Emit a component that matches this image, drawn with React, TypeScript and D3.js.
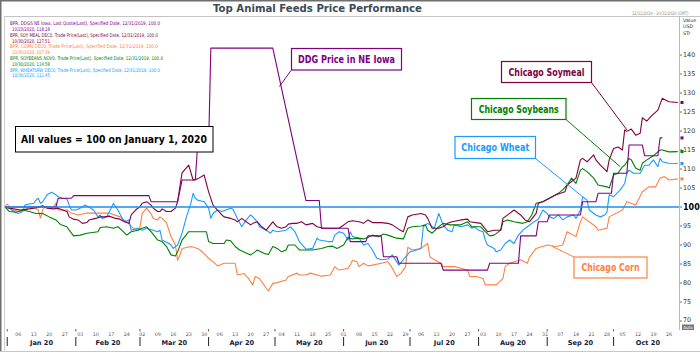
import React from "react";
import * as d3 from "d3";

// ---- DATA (day = days since 12/31/2019, value = index, 100 on 1 Jan 2020) ----
const corn: [number, number][] = [[0,100],[1,100.8],[3,99.2],[7,98.8],[9,99.2],[11,100],[13,100],[15,99.2],[16,97.1],[17,99.2],[18,100],[22,100],[23,101],[24,99.2],[28,99.2],[30,98.4],[33,97.9],[37,98.4],[43,98.4],[47,98.4],[52,97.4],[55,96.1],[58,94.4],[60,93.9],[61,94.7],[62,98.3],[64,99.7],[66,98.2],[67,97],[69,96.6],[70,97.4],[71,97],[73,95.8],[75,92.2],[77,90],[78,86],[79,87.3],[80,89.1],[84,89.6],[87,89.1],[89,88.3],[92,86.5],[94,85.6],[96,84.5],[99,85.2],[102,85.2],[104,85.2],[105,82.1],[108,82.5],[110,81.2],[112,79.5],[113,81.7],[115,81.2],[117,79.5],[119,77.9],[121,79.9],[123,80.1],[127,80.8],[128,81.7],[132,82.6],[133,82.1],[136,82.1],[138,82.6],[143,81.8],[147,82.1],[149,84.3],[151,83.4],[155,83.9],[156,84.7],[157,86],[159,85.6],[160,84.3],[162,85.2],[164,84.5],[166,84.7],[170,85.2],[173,85.6],[175,83.9],[177,81.7],[179,82.6],[181,84.3],[182,89.4],[184,88.7],[188,89.1],[191,90.4],[192,86.9],[194,86.1],[197,85.2],[198,84.3],[201,84.3],[203,84.3],[206,83.9],[209,83.4],[210,81.7],[213,81.7],[216,81.2],[217,79.5],[219,79.5],[222,79.5],[225,81.2],[226,84.3],[228,85.2],[233,86.1],[236,85.2],[237,86.8],[240,89.1],[245,90],[249,89.6],[252,90],[254,93.5],[258,92.2],[260,96.1],[261,97.4],[267,94.8],[268,93.9],[272,94.4],[273,97.4],[279,99.2],[281,101.4],[285,100.5],[288,104],[291,105.3],[294,105.3],[296,107.6],[298,108],[300,107.1],[304,107.39]];

const wheat: [number, number][] = [[0,100],[2,99.7],[4,98.8],[6,98.3],[8,98.8],[9,100.5],[11,100.8],[13,101],[14,101.8],[15,102.3],[16,101],[17,101.4],[19,103.2],[21,103.9],[23,103.2],[24,102.7],[26,102.3],[28,102.1],[29,100.5],[30,99.2],[32,99.2],[34,99.7],[36,100.5],[38,100],[40,99.2],[42,97.4],[43,97.9],[44,97],[46,97.4],[49,101],[51,99.2],[53,97],[54,96.1],[56,96.6],[57,93.9],[60,94.4],[62,93.9],[64,94.4],[69,93.5],[70,93.9],[71,91.3],[74,90.4],[75,90],[76,89.1],[78,90],[80,93.1],[82,97.4],[84,101],[85,103.6],[86,102.3],[87,101.8],[90,101.4],[92,99.7],[93,97],[94,98.3],[96,99.2],[98,98.8],[102,99.7],[103,99.4],[105,97],[107,94.8],[109,96.6],[111,97.9],[112,97.4],[114,96.1],[115,94.8],[118,93.9],[119,93.5],[120,93.1],[121,93.9],[123,93.5],[127,93.9],[129,94.8],[131,93.5],[133,90.9],[136,88.9],[139,89.1],[141,91.8],[142,91.3],[146,90.9],[148,90.9],[149,92.6],[151,93.5],[153,93.1],[155,91.3],[156,93.5],[157,92.2],[160,91.8],[162,90],[164,90.4],[166,88.7],[168,86.5],[170,86.1],[173,86.3],[175,87.4],[178,84.7],[181,86.9],[183,88.2],[186,88.7],[188,89.1],[189,94.8],[191,95.7],[192,95.3],[194,94.4],[196,98.3],[198,95.3],[200,93.9],[202,93.5],[203,95.3],[206,94.8],[209,95.3],[211,94.4],[212,94.8],[214,93.9],[216,93.5],[217,91.3],[218,90],[221,89.1],[222,88.2],[224,88.7],[226,90.4],[228,91.3],[230,90.4],[232,92.6],[234,93.9],[236,94.8],[239,96.1],[241,96.8],[243,99.2],[245,98.3],[246,97.4],[248,97],[250,97.9],[252,96.6],[254,97.4],[257,97.9],[258,97],[260,99.2],[261,102.7],[263,101.8],[264,99.2],[267,97.9],[269,97.4],[271,97.9],[272,98.7],[273,103.2],[275,102.7],[278,104.5],[280,106.2],[281,108.9],[282,109.7],[284,108.9],[287,108.9],[289,111],[291,111],[293,112.4],[295,110.6],[296,112.8],[297,111.9],[300,111.5],[304,111.45]];

const soybeans: [number, number][] = [[0,100],[2,98.8],[5,98.6],[8,99.2],[11,98.8],[14,98.3],[17,98.3],[20,97.4],[23,96.6],[25,95.4],[28,94.8],[29,93.9],[31,92.4],[34,92.6],[37,93.1],[42,93.5],[43,94.6],[46,94.8],[49,94.4],[51,94.8],[53,93.8],[55,92.6],[57,93.5],[60,93.9],[62,94.4],[64,94.8],[66,93.5],[69,91.3],[71,90.9],[73,89.6],[75,87.4],[77,87.1],[78,88.2],[80,91.3],[83,93.5],[85,93.5],[91,93.5],[92,90.9],[94,90.4],[99,90.4],[100,91.3],[102,91.1],[104,89.6],[106,88.7],[111,87.4],[113,88.2],[114,88.7],[117,87.8],[119,87.5],[121,89.6],[123,89.1],[125,88.2],[127,88.7],[128,90],[131,90],[133,88.7],[139,88.7],[143,89.1],[146,89.6],[148,89.7],[150,89.1],[153,90],[155,92],[157,91.6],[159,91.8],[162,91.6],[164,92],[166,92.6],[169,92.2],[171,92.9],[173,92.6],[177,91.8],[180,91.6],[182,94.4],[184,94.8],[188,95],[190,95.3],[191,93.9],[193,93.1],[196,94.8],[198,95.7],[201,95.3],[206,95.3],[209,96.1],[211,94.8],[215,94.8],[217,93.5],[219,92.4],[221,92.6],[224,93.9],[225,96.1],[227,96.6],[230,96.1],[234,95.7],[236,96.1],[238,97.9],[240,101],[243,101.4],[246,102.3],[250,103.6],[252,104.5],[254,105.8],[256,107.6],[258,106.2],[260,109.7],[261,110.1],[263,109.3],[266,107.6],[268,105.8],[272,105.3],[273,105],[275,108.4],[277,108.9],[279,110.6],[280,111],[282,112.8],[283,112.4],[285,110.2],[287,109.7],[288,111.5],[290,112.4],[293,113.5],[295,114.5],[296,115],[297,115],[300,114.5],[304,114.58]];

const soymeal: [number, number][] = [[0,100],[2,99.7],[7,99.2],[11,99.5],[13,99.7],[16,100.1],[17,100.3],[19,99.7],[22,99.5],[24,99.7],[26,99.2],[28,98.8],[29,97.4],[31,96.8],[33,96.6],[35,95.7],[37,95.9],[38,96.6],[41,97],[43,97.4],[45,97.4],[47,97.6],[50,97],[52,96.8],[54,96.1],[56,95.7],[57,97.9],[59,99.2],[61,100.1],[62,101],[64,101.4],[66,100.5],[67,99.7],[69,98.8],[70,98.8],[71,99.5],[73,98.8],[75,98.8],[77,99.7],[78,101.4],[80,109],[83,111],[85,107.1],[87,107.4],[90,108.4],[92,104],[94,100.5],[96,99.2],[98,97.9],[99,97.4],[102,97],[104,96.6],[105,96.1],[107,97],[109,96.1],[111,95.3],[112,95.7],[114,96.1],[116,94.8],[118,93.9],[121,96.1],[123,94.8],[125,94.4],[127,94.8],[128,95.5],[130,95.7],[132,95.7],[134,96.1],[136,95.3],[139,95.7],[141,94.8],[144,94.4],[148,94.4],[151,94.4],[155,96.1],[157,96.4],[160,96.1],[162,95.7],[164,96.6],[166,95.9],[170,95.9],[173,95.7],[175,95.3],[178,94.1],[180,93.5],[182,97.4],[184,97.9],[188,98.3],[190,97.9],[191,97],[193,94.4],[196,94.4],[198,94.8],[200,95.7],[202,96.1],[206,96.6],[209,96.8],[210,96.1],[215,95.7],[218,93.5],[221,93.9],[224,93.9],[225,97],[230,99.2],[233,97.9],[235,96.6],[237,96.1],[240,98.3],[241,101],[243,101.4],[246,102.3],[249,103.2],[251,103.6],[253,104],[254,105.8],[256,106.7],[258,107.6],[260,112.4],[261,112.8],[263,111.9],[266,113.7],[267,112.4],[269,111],[272,109.3],[273,112.4],[275,115.4],[277,115.8],[279,115],[280,120.3],[281,119.9],[283,120.5],[285,118.9],[287,119.4],[288,123.5],[290,122.6],[292,123.9],[295,125.5],[297,128.6],[298,128.3],[300,127.7],[304,127.51]];

const ddg: [number, number][] = [[0,100],[23,100],[24,102.3],[30,102.3],[31,103],[65,103],[66,101.4],[78,101.4],[80,107.1],[86,107.1],[87,116],[92,116],[93,141.8],[121,141.8],[136,101.7],[142,101.7],[143,94.4],[155,94.4],[156,90.9],[163,90.9],[164,92.4],[170,92.4],[171,86.9],[177,86.9],[178,85.2],[197,85.2],[198,83.4],[218,83.4],[219,85.2],[232,85.2],[233,92.4],[240,92.4],[241,96.1],[245,96.1],[246,97.9],[260,97.9],[261,101.4],[267,101.4],[268,103.6],[274,103.6],[275,108.9],[281,108.9],[282,116.3],[288,116.3],[289,113.5],[295,113.5],[296,118.18],[297,118.18]];

const legendMain = [
  "BPR, DDGS NE Iowa, Last Quote(Last), Specified Date, 12/31/2019, 100.0",
  "BPR, SOY MEAL DEC0, Trade Price(Last), Specified Date, 12/31/2019, 100.0",
  "BPR, CORN DEC0, Trade Price(Last), Specified Date, 12/31/2019, 100.0",
  "BPR, SOYBEANS NOV0, Trade Price(Last), Specified Date, 12/31/2019, 100.0",
  "BPR, WHEATSRW DEC0, Trade Price(Last), Specified Date, 12/31/2019, 100.0",
];
const legendLast = ["10/23/2020, 118.18", "10/30/2020, 127.51", "10/30/2020, 107.39", "10/30/2020, 114.58", "10/30/2020, 111.45"];
const yTicks = [70, 75, 80, 85, 90, 95, 100, 105, 110, 115, 120, 125, 130, 135, 140];

const C = {
  ddg: "#800080",
  soymeal: "#800040",
  corn: "#ff8040",
  soybeans: "#008000",
  wheat: "#1a9bff",
};

export default function App() {
  const start = new Date(2019, 11, 31);
  const end = new Date(2020, 9, 31);
  const toDate = (d: number) => d3.timeDay.offset(start, d);
  const x = d3.scaleTime().domain([start, end]).range([5, 680]);
  const y = d3.scaleLinear().domain([70, 140]).range([321, 55]);
  const line = d3
    .line<[number, number]>()
    .x((d) => x(toDate(d[0])))
    .y((d) => y(d[1]));

  const series = [
    { data: corn, color: C.corn },
    { data: wheat, color: C.wheat },
    { data: soybeans, color: C.soybeans },
    { data: soymeal, color: C.soymeal },
    { data: ddg, color: C.ddg },
  ];
  const legendColors = [C.ddg, C.soymeal, C.corn, C.soybeans, C.wheat];

  const mondays = d3.timeMonday.range(new Date(2020, 0, 1), new Date(2020, 10, 1));
  const months = d3.timeMonth.range(new Date(2020, 0, 1), new Date(2020, 10, 1));
  const fmtDay = d3.timeFormat("%d");
  const fmtMon = d3.timeFormat("%b");

  const font = "DejaVu Sans, Verdana, sans-serif";

  const boxes = [
    { text: "DDG Price in NE Iowa", color: C.ddg, x0: 291.5, y0: 48.5, x1: 401.5, y1: 70, tl: 97, from: [291, 70.5], anchor: [124.7, 131.7] },
    { text: "Chicago Soymeal", color: C.soymeal, x0: 501.5, y0: 61.5, x1: 591.5, y1: 82.5, tl: 76, from: [591.5, 82.5], anchor: [281, 120.3] },
    { text: "Chicago Soybeans", color: C.soybeans, x0: 471.5, y0: 98.5, x1: 566, y1: 119.5, tl: 80, from: [566, 119.5], anchor: [278.7, 110.6] },
    { text: "Chicago Wheat", color: C.wheat, x0: 455, y0: 136.5, x1: 535.5, y1: 158.5, tl: 68, from: [535.5, 158.5], anchor: [261.2, 102.7] },
    { text: "Chicago Corn", color: C.corn, x0: 574, y0: 257, x1: 647, y1: 278, tl: 58, from: [574, 257], anchor: [247.6, 89.7] },
  ];

  const last = [
    { v: 127.51, c: C.soymeal },
    { v: 118.18, c: C.ddg },
    { v: 114.58, c: C.soybeans },
    { v: 111.45, c: C.wheat },
    { v: 107.39, c: C.corn },
  ];

  return (
    <svg width={700} height={354} style={{ position: "absolute", left: 0, top: 0, background: "#fff" }} fontFamily={font}>
      <rect x={0} y={0} width={700} height={354} fill="#fff" />
      {/* outer border */}
      <line x1={0} y1={0.75} x2={700} y2={0.75} stroke="#6e6e6e" strokeWidth={1.5} />
      <line x1={0.75} y1={0} x2={0.75} y2={352} stroke="#6e6e6e" strokeWidth={1.5} />
      <line x1={0} y1={351.5} x2={700} y2={351.5} stroke="#c8c8c8" strokeWidth={1} />
      {/* plot frame */}
      <line x1={4.5} y1={16.5} x2={700} y2={16.5} stroke="#c4c4c4" strokeWidth={1} />
      <line x1={4.5} y1={16.5} x2={4.5} y2={351} stroke="#d0d0d0" strokeWidth={1} />
      <line x1={679.5} y1={16.5} x2={679.5} y2={330} stroke="#b8b8b8" strokeWidth={1} />

      {/* title */}
      <text x={317.5} y={12} textAnchor="middle" fontSize={10.8} fontWeight="bold" fill="#3d4a57" textLength={209} lengthAdjust="spacingAndGlyphs">
        Top Animal Feeds Price Performance
      </text>
      <text transform="translate(632,14.5) scale(0.74,1)" fontSize={4.8} fill="#8a8a8a">
        12/31/2019 - 10/31/2020 (GMT)
      </text>
      <text x={683} y={22} fontSize={4.8} fill="#333">Value</text>
      <text x={683} y={28} fontSize={4.8} fill="#333">USD</text>
      <text x={683} y={34.5} fontSize={4.8} fill="#333">STr</text>

      {/* legend */}
      {legendMain.map((t, i) => (
        <g key={"lg" + i} fill={legendColors[i]} fontSize={5.2}>
          <text x={10} y={25.2 + i * 11.6} textLength={[150, 148, 148, 153, 150][i]} lengthAdjust="spacingAndGlyphs">{t}</text>
          <text x={12} y={31 + i * 11.6} textLength={38} lengthAdjust="spacingAndGlyphs">{legendLast[i]}</text>
        </g>
      ))}

      {/* y axis */}
      {yTicks.map((v) => (
        <g key={"yt" + v}>
          <line x1={680} x2={682} y1={y(v)} y2={y(v)} stroke="#444" strokeWidth={0.8} />
          {v === 100 ? (
            <text x={683} y={y(v) + 3} fontSize={8} fontWeight="bold" fill="#000">100</text>
          ) : (
            <text x={683} y={y(v) + (v === 70 ? 1.2 : 2.4)} fontSize={6.4} fill="#333">{v}</text>
          )}
        </g>
      ))}
      <rect x={682} y={324.5} width={12} height={5.5} fill="#777" />
      <text x={688} y={328.8} fontSize={4.2} fill="#fff" textAnchor="middle">Auto</text>

      {/* x axis */}
      {mondays.map((d, i) => (
        <text key={"dl" + i} x={x(d)} y={335.5} fontSize={4.8} fill="#555" textAnchor="middle">{fmtDay(d)}</text>
      ))}
      {months.map((m, i) => {
        const next = d3.timeMonth.offset(m, 1);
        const mid = (x(m) + x(next)) / 2;
        return (
          <g key={"mo" + i}>
            <line x1={x(m)} x2={x(m)} y1={329} y2={331.5} stroke="#333" strokeWidth={0.8} />
            <line x1={x(m)} x2={x(m)} y1={337} y2={346} stroke="#222" strokeWidth={1} />
            <text x={mid} y={344.5} fontSize={6.6} fontWeight="bold" fill="#14203c" textAnchor="middle">
              {fmtMon(m) + " 20"}
            </text>
          </g>
        );
      })}

      {/* series */}
      {series.map((s, i) => (
        <path key={"s" + i} d={line(s.data) || ""} fill="none" stroke={s.color} strokeWidth={1.1} strokeLinejoin="round" />
      ))}
      <line x1={5} x2={679} y1={y(100)} y2={y(100)} stroke="#1a8cf0" strokeWidth={1.3} />

      {/* last value markers */}
      {last.map((l, i) => (
        <rect key={"lm" + i} x={680.5} y={y(l.v) - 1.5} width={3} height={3} fill={l.c} />
      ))}

      {/* annotation: all values */}
      <rect x={15.5} y={126.5} width={197.5} height={25.5} fill="#fff" stroke="#000" strokeWidth={1} />
      <text x={114} y={142.8} textAnchor="middle" fontSize={10.3} fontWeight="bold" fill="#000" textLength={186} lengthAdjust="spacingAndGlyphs">
        All values = 100 on January 1, 2020
      </text>

      {boxes.map((b, i) => (
        <g key={"bx" + i}>
          <line x1={b.from[0]} y1={b.from[1]} x2={x(toDate(b.anchor[0]))} y2={y(b.anchor[1])} stroke={b.color} strokeWidth={1} />
          <rect x={b.x0} y={b.y0} width={b.x1 - b.x0} height={b.y1 - b.y0} fill="#fff" stroke={b.color} strokeWidth={1.2} />
          <text x={(b.x0 + b.x1) / 2} y={(b.y0 + b.y1) / 2 + 3.5} textAnchor="middle" fontSize={9.6} fontWeight="bold" fill={b.color} textLength={b.tl} lengthAdjust="spacingAndGlyphs">
            {b.text}
          </text>
        </g>
      ))}
    </svg>
  );
}
